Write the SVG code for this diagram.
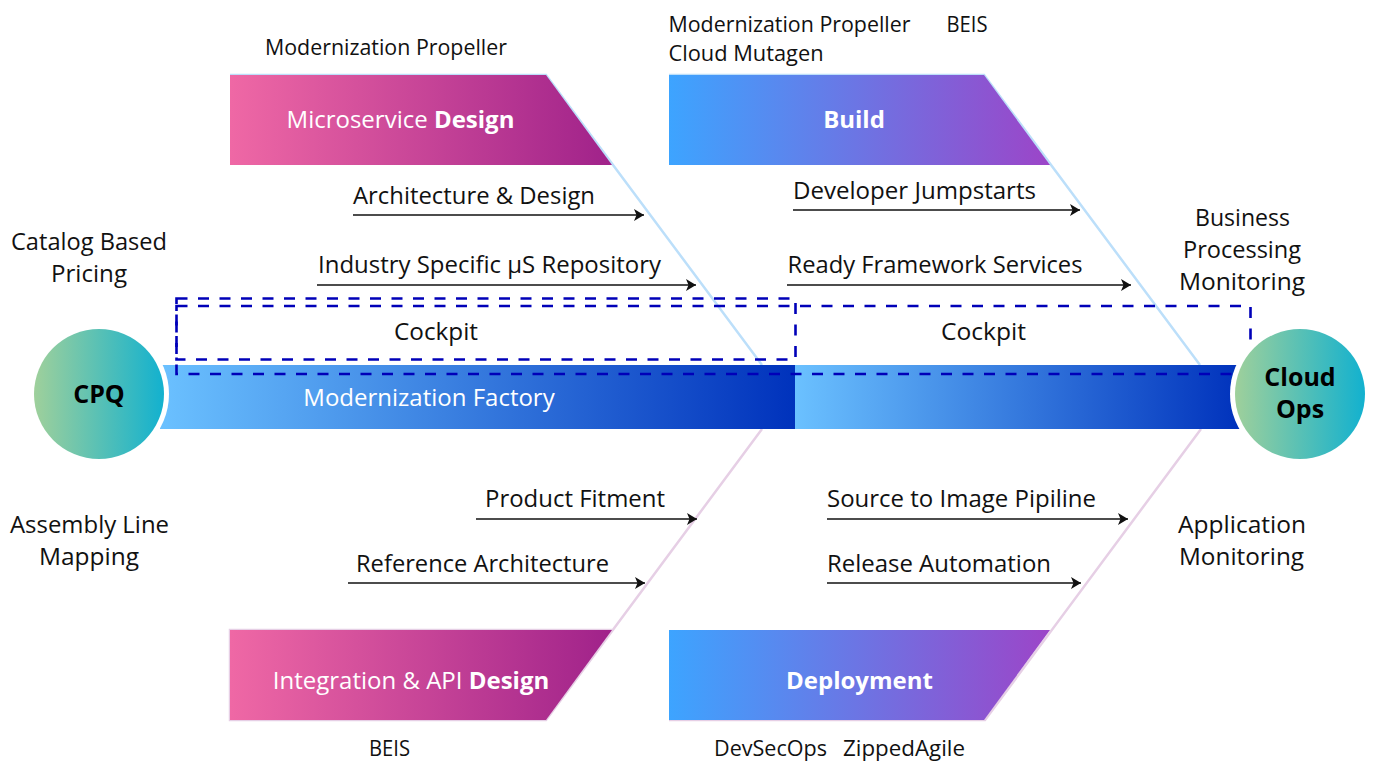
<svg xmlns="http://www.w3.org/2000/svg" width="1374" height="764" viewBox="0 0 1374 764">
<style>
text{font-family:"Open Sans","Noto Sans","Liberation Sans",sans-serif;font-size:23px;fill:#111}
.c{text-anchor:middle}
.w{fill:#fff;font-size:24px}
.b{font-weight:700}
.n{fill:#000;font-weight:700;font-size:25px}
.s{font-size:21px}
.arr{stroke:#111;stroke-width:1.6;fill:none;marker-end:url(#ah)}
.dash{fill:none;stroke:#0000b8;stroke-width:2.6;stroke-dasharray:11 10.5}
</style>
<defs>
<marker id="ah" markerUnits="userSpaceOnUse" markerWidth="11" markerHeight="12" refX="10" refY="6" orient="auto"><path d="M0 0L10 6L0 12L2.500 6Z" fill="#111"/></marker>
<linearGradient id="pink"><stop offset="0" stop-color="#ef68a5"/><stop offset="1" stop-color="#a0228a"/></linearGradient>
<linearGradient id="purp"><stop offset="0" stop-color="#3da4ff"/><stop offset="1" stop-color="#9c45c8"/></linearGradient>
<linearGradient id="bar"><stop offset="0" stop-color="#6bc1ff"/><stop offset="1" stop-color="#0032bc"/></linearGradient>
<linearGradient id="disc"><stop offset="0" stop-color="#9fd09b"/><stop offset="1" stop-color="#12b1cf"/></linearGradient>
</defs>
<g id="connectors">
<path d="M230 75H546L762 365M669 75H984L1200 365" fill="none" stroke="#bcdffa" stroke-width="2.500"/>
<path d="M762 429L546 720H230V630H612M1201 429L985 720H669" fill="none" stroke="#e6cfe5" stroke-width="2.500"/>
<path class="arr" d="M353 215H644"/>
<path class="arr" d="M317 285H696"/>
<path class="arr" d="M793 210H1080"/>
<path class="arr" d="M787 285H1131"/>
<path class="arr" d="M476 519H697"/>
<path class="arr" d="M348 583H645"/>
<path class="arr" d="M827 519H1128"/>
<path class="arr" d="M827 583H1081"/>
</g>
<g id="spine">
<rect x="160" y="365" width="635" height="64" fill="url(#bar)"/>
<rect x="795" y="365" width="445" height="64" fill="url(#bar)"/>
<text class="w" x="429" y="406" style="text-anchor:middle">Modernization Factory</text>
</g>
<g id="cockpit-1">
<rect class="dash" x="176.500" y="298.500" width="619" height="61"/>
<text x="394" y="340" textLength="84" lengthAdjust="spacingAndGlyphs">Cockpit</text>
</g>
<g id="cockpit-2">
<rect class="dash" x="176.500" y="306" width="1074" height="68"/>
<text x="941" y="340" textLength="85" lengthAdjust="spacingAndGlyphs">Cockpit</text>
</g>
<g id="cpq">
<circle cx="99" cy="394" r="70" fill="#fff"/>
<circle cx="99" cy="394" r="65" fill="url(#disc)"/>
<text class="c n" x="99" y="403">CPQ</text>
</g>
<g id="cloud-ops">
<circle cx="1300" cy="394" r="70" fill="#fff"/>
<circle cx="1300" cy="394" r="65" fill="url(#disc)"/>
<text class="c n" x="1300" y="386">Cloud</text>
<text class="c n" x="1300" y="418">Ops</text>
</g>
<g id="microservice-design">
<path d="M230 75H546L612 165H230Z" fill="url(#pink)"/>
<text class="c w" x="400.500" y="128">Microservice <tspan class="b">Design</tspan></text>
</g>
<g id="build">
<path d="M669 75H984L1050 165H669Z" fill="url(#purp)"/>
<text class="c w b" x="854" y="128">Build</text>
</g>
<g id="integration-api-design">
<path d="M230 720H546L612 630H230Z" fill="url(#pink)"/>
<text class="c w" x="411" y="689">Integration &amp; API <tspan class="b">Design</tspan></text>
</g>
<g id="deployment">
<path d="M669 720H984L1050 630H669Z" fill="url(#purp)"/>
<text class="c w b" x="859.500" y="689">Deployment</text>
</g>
<g id="labels">
<text class="s" x="265" y="55" textLength="242" lengthAdjust="spacingAndGlyphs">Modernization Propeller</text>
<text class="s" x="668.500" y="32" textLength="242" lengthAdjust="spacingAndGlyphs">Modernization Propeller</text>
<text class="s" x="946.500" y="32" textLength="41" lengthAdjust="spacingAndGlyphs">BEIS</text>
<text class="s" x="668.500" y="61" textLength="155" lengthAdjust="spacingAndGlyphs">Cloud Mutagen</text>
<text class="s" x="369" y="756" textLength="41" lengthAdjust="spacingAndGlyphs">BEIS</text>
<text class="s" x="714" y="756" textLength="113" lengthAdjust="spacingAndGlyphs">DevSecOps</text>
<text class="s" x="843" y="756" textLength="122" lengthAdjust="spacingAndGlyphs">ZippedAgile</text>
<text x="353" y="204" textLength="242" lengthAdjust="spacingAndGlyphs">Architecture &amp; Design</text>
<text x="318" y="273" textLength="343" lengthAdjust="spacingAndGlyphs">Industry Specific µS Repository</text>
<text x="793" y="199" textLength="243" lengthAdjust="spacingAndGlyphs">Developer Jumpstarts</text>
<text x="787.500" y="273" textLength="295" lengthAdjust="spacingAndGlyphs">Ready Framework Services</text>
<text x="485" y="507" textLength="180" lengthAdjust="spacingAndGlyphs">Product Fitment</text>
<text x="356" y="572" textLength="253" lengthAdjust="spacingAndGlyphs">Reference Architecture</text>
<text x="827" y="507" textLength="269" lengthAdjust="spacingAndGlyphs">Source to Image Pipiline</text>
<text x="827" y="572" textLength="224" lengthAdjust="spacingAndGlyphs">Release Automation</text>
<text x="11" y="250" textLength="156" lengthAdjust="spacingAndGlyphs">Catalog Based</text>
<text x="51" y="282" textLength="76" lengthAdjust="spacingAndGlyphs">Pricing</text>
<text x="10" y="533" textLength="159" lengthAdjust="spacingAndGlyphs">Assembly Line</text>
<text x="39" y="565" textLength="100" lengthAdjust="spacingAndGlyphs">Mapping</text>
<text x="1195" y="226" textLength="95" lengthAdjust="spacingAndGlyphs">Business</text>
<text x="1183" y="258" textLength="118" lengthAdjust="spacingAndGlyphs">Processing</text>
<text x="1179" y="290" textLength="126" lengthAdjust="spacingAndGlyphs">Monitoring</text>
<text x="1178" y="533" textLength="128" lengthAdjust="spacingAndGlyphs">Application</text>
<text x="1179" y="565" textLength="125" lengthAdjust="spacingAndGlyphs">Monitoring</text>
</g>
</svg>
